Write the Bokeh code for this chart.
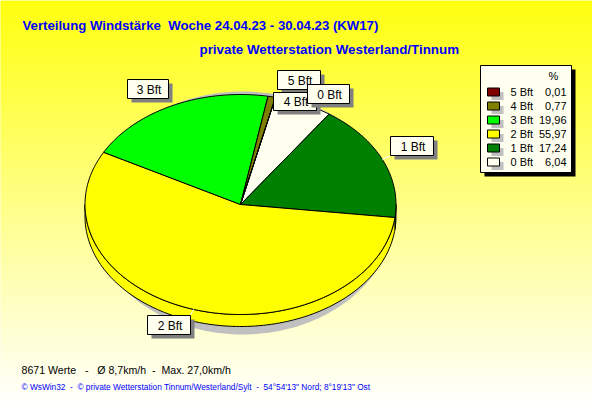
import numpy as np
from bokeh.plotting import figure
from bokeh.models import Range1d
from bokeh.core.properties import value
from bokeh.embed import file_html
from bokeh.resources import INLINE

# ---- data ----
categories = ["0 Bft", "1 Bft", "2 Bft", "3 Bft", "4 Bft", "5 Bft"]
percent = [6.04, 17.24, 55.97, 19.96, 0.77, 0.01]
colors = ["#FFFFF0", "#008000", "#FFFF00", "#00FF00", "#808000", "#800000"]
legend_order = [5, 4, 3, 2, 1, 0]
NB = "\u00a0"
title_1 = f"Verteilung Windstärke {NB}Woche 24.04.23 - 30.04.23 (KW17)"
title_2 = "private Wetterstation Westerland/Tinnum"
foot_1 = f"8671 Werte {NB}{NB}- {NB}{NB}Ø 8,7km/h {NB}- {NB}Max. 27,0km/h"
foot_2 = f"© WsWin32 {NB}- {NB}© private Wetterstation Tinnum/Westerland/Sylt {NB}- {NB}54°54'13\" Nord; 8°19'13\" Ost"

# ---- layout (page pixels of the reference) ----
W, H = 592, 407
CX, CY, RX, RY, DEPTH = 240, 204, 155.5, 110, 12
START = 13.0
SANS = value("Liberation Sans")
label_boxes = {  # left, top, right, bottom
    "5 Bft": (277, 70, 320, 89), "4 Bft": (273, 92, 316, 110), "3 Bft": (127, 79, 168, 98),
    "2 Bft": (147, 315, 190, 334), "1 Bft": (390, 136, 433, 155), "0 Bft": (307, 84, 349, 103),
}
leaders = ["1 Bft", "2 Bft"]

p = figure(width=W, height=H, output_backend="svg", toolbar_location=None,
           x_range=Range1d(0, W), y_range=Range1d(H, 0), min_border=0,
           outline_line_color=None, x_axis_type=None, y_axis_type=None)
p.xgrid.visible = False
p.ygrid.visible = False

# background gradient, row by row
rows = np.arange(0, H)
shade = [f"#ffff{int(round(255 * r / (H - 1))):02x}" for r in rows]
p.quad(left=0, right=W, top=rows, bottom=rows + 1, fill_color=shade, line_color=shade, line_width=0.5)

def ell(a_deg, cy=CY):
    a = np.radians(a_deg)
    return CX + RX * np.sin(a), cy + RY * -np.cos(a)

# shadow of the pie
t = np.linspace(0, 360, 181)
p.patch(CX + 2 + 152 * np.sin(np.radians(t)), 212.5 - 121.5 * np.cos(np.radians(t)),
        fill_color="#C0C0C0", line_color=None)

cum = np.cumsum([0] + percent) / sum(percent) * 360 + START
# side wall (front half only)
for i in range(len(percent)):
    for lo, hi in ((cum[i], cum[i + 1]), (cum[i] - 360, cum[i + 1] - 360)):
        a0, a1 = max(lo, 90), min(hi, 270)
        if a1 > a0:
            a = np.linspace(a0, a1, max(2, int(a1 - a0) + 2))
            x, y = ell(a)
            p.patch(np.r_[x, x[::-1]], np.r_[y, (y + DEPTH)[::-1]], fill_color=colors[i],
                    line_color="black", line_width=1)
# top of the pie
for i in range(len(percent)):
    a = np.linspace(cum[i], cum[i + 1], max(2, int(cum[i + 1] - cum[i]) + 2))
    x, y = ell(a)
    p.patch(np.r_[CX, x], np.r_[CY, y], fill_color=colors[i], line_color="black", line_width=1)

# leaders and labels
for i in [5, 4, 3, 2, 1, 0]:
    if categories[i] in leaders:
        l, tp, r, b = label_boxes[categories[i]]
        mx, my = ell((cum[i] + cum[i + 1]) / 2)
        p.segment(mx, my, np.clip(mx, l, r), np.clip(my, tp, b), line_color="#FFFFFF", line_width=1)
for i in [5, 4, 3, 2, 1, 0]:
    l, tp, r, b = label_boxes[categories[i]]
    p.quad(left=l + 4, right=r + 4, top=tp + 4, bottom=b + 4, fill_color="#808080", line_color=None)
    p.quad(left=l, right=r, top=tp, bottom=b, fill_color="#FFFFF0", line_color="black", line_width=1)
    p.text(x=[(l + r) / 2 + 1], y=[(tp + b) / 2 + 0.5], text=[categories[i]], text_font=SANS,
           text_font_size="12px", text_align="center", text_baseline="middle", text_color="black")

# legend
p.quad(left=484, right=575, top=69, bottom=176, fill_color="black", line_color=None)
p.quad(left=480, right=571, top=65, bottom=172, fill_color="#FFFFF0", line_color="black", line_width=1)
p.text(x=[553], y=[75.5], text=["%"], text_font=SANS, text_font_size="11px",
       text_align="center", text_baseline="middle", text_color="black")
for n, i in enumerate(legend_order):
    yc = 91.5 + n * 14
    p.quad(left=491, right=503, top=yc, bottom=yc + 8, fill_color="#C0C0C0", line_color=None)
    p.quad(left=487, right=499, top=yc - 4, bottom=yc + 4, fill_color=colors[i], line_color="black", line_width=1)
    p.text(x=[510], y=[yc], text=[categories[i]], text_font=SANS, text_font_size="11px",
           text_baseline="middle", text_color="black")
    p.text(x=[566], y=[yc], text=[f"{percent[i]:.2f}".replace(".", ",")], text_font=SANS,
           text_font_size="11px", text_align="right", text_baseline="middle", text_color="black")

# titles and footers
p.text(x=[22], y=[24.5], text=[title_1], text_font=SANS, text_font_size="13.2px", text_font_style="bold",
       text_baseline="middle", text_color="#0000FF")
p.text(x=[199], y=[48.5], text=[title_2], text_font=SANS, text_font_size="13.35px", text_font_style="bold",
       text_baseline="middle", text_color="#0000FF")
p.text(x=[21], y=[369], text=[foot_1], text_font=SANS, text_font_size="10.6px",
       text_baseline="middle", text_color="#000000")
p.text(x=[21], y=[386.5], text=[foot_2], text_font=SANS, text_font_size="8.3px",
       text_baseline="middle", text_color="#0000FF")

open("out.html", "w").write(file_html(p, INLINE))
